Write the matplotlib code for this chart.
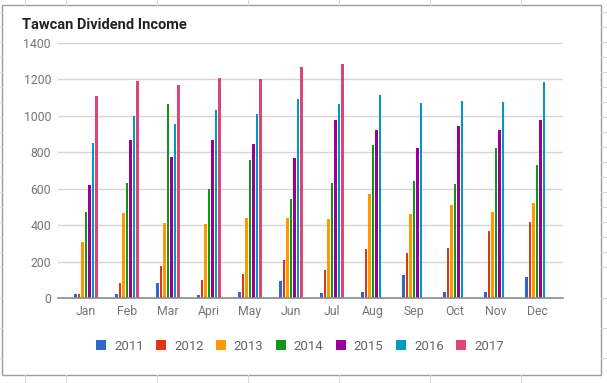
import matplotlib
matplotlib.use("Agg")
import matplotlib.pyplot as plt
from matplotlib.patches import Rectangle, Patch
from matplotlib.lines import Line2D
import numpy as np

months = ["Jan", "Feb", "Mar", "Apri", "May", "Jun", "Jul", "Aug", "Sep", "Oct", "Nov", "Dec"]
years = ["2011", "2012", "2013", "2014", "2015", "2016", "2017"]
colors = ["#3366cc", "#dc3912", "#ff9900", "#109618", "#990099", "#0099c6", "#dd4477"]

v2011 = [20, 20, 85, 15, 35, 95, 30, 35, 125, 35, 35, 115]
v2012 = [20, 85, 175, 100, 130, 210, 155, 270, 245, 275, 370, 420]
v2013 = [310, 465, 410, 405, 440, 440, 435, 570, 460, 510, 470, 520]
v2014 = [470, 630, 1065, 600, 755, 545, 630, 840, 640, 625, 825, 730]
v2015 = [620, 865, 775, 865, 845, 770, 975, 925, 825, 945, 925, 975]
v2016 = [850, 1000, 955, 1030, 1010, 1095, 1065, 1115, 1070, 1080, 1075, 1185]
v2017 = [1110, 1190, 1170, 1210, 1200, 1270, 1285, 0, 0, 0, 0, 0]
series = [v2011, v2012, v2013, v2014, v2015, v2016, v2017]

plt.rcParams['font.family'] = ['Roboto', 'DejaVu Sans']

W, H = 607, 383
fig = plt.figure(figsize=(W / 100, H / 100), dpi=100)
fig.patch.set_facecolor("white")

# spreadsheet background lines
for xx in [25, 66, 157, 248, 339, 430, 521]:
    fig.add_artist(Line2D([xx / W, xx / W], [1, 1 - 5 / H], color="#d9d9d9", lw=0.8))
    fig.add_artist(Line2D([xx / W, xx / W], [0, 8 / H], color="#d9d9d9", lw=0.8))
for yy in list(range(12, 280, 15)) + [298, 328, 358]:
    fig.add_artist(Line2D([0, 2 / W], [1 - yy / H, 1 - yy / H], color="#d9d9d9", lw=0.8))
    fig.add_artist(Line2D([601 / W, 1], [1 - yy / H, 1 - yy / H], color="#d9d9d9", lw=0.8))

# chart box
fig.add_artist(Rectangle((2 / W, 1 - 375 / H), 599 / W, 370 / H, transform=fig.transFigure,
                         fill=True, facecolor="white", edgecolor="#9e9e9e", lw=1.0, zorder=0))

ax = fig.add_axes([58 / W, 1 - 298 / H, 505 / W, 255 / H])
ax.set_facecolor("none")

x = np.arange(len(months))
n = len(series)
pitch = 0.086
bw = 0.062
for i, (vals, c, lab) in enumerate(zip(series, colors, years)):
    ax.bar(x + (i - (n - 1) / 2) * pitch, vals, width=bw, color=c, label=lab, zorder=3)

ax.set_xlim(-0.68, 11.63)
ax.set_ylim(0, 1400)
ax.set_yticks(range(0, 1401, 200))
ax.set_xticks(x)
ax.set_xticklabels(months)
ax.grid(axis="y", color="#d6d6d6", lw=1.0, zorder=0)
for s in ["top", "right", "left"]:
    ax.spines[s].set_visible(False)
ax.spines["bottom"].set_color("#8a8a8a")
ax.spines["bottom"].set_linewidth(1.2)
ax.spines["bottom"].set_zorder(4)
ax.tick_params(axis="both", length=0, colors="#757575", labelsize=8.8)
ax.tick_params(axis="y", pad=5)
ax.tick_params(axis="x", pad=5)

fig.text(22 / W, 1 - 25 / H, "Tawcan Dividend Income", fontsize=10.5, fontweight="bold",
         color="#222222", va="center", ha="left")

handles = [Patch(facecolor=c, edgecolor="none") for c in colors]
fig.legend(handles, years, loc="center", bbox_to_anchor=(300 / W, 1 - 346 / H), ncol=7,
           frameon=False, fontsize=9.5, handlelength=0.75, handleheight=0.75,
           handletextpad=0.6, columnspacing=0.95, labelcolor="#666666")

fig.savefig("out.png", dpi=100, facecolor="white")
